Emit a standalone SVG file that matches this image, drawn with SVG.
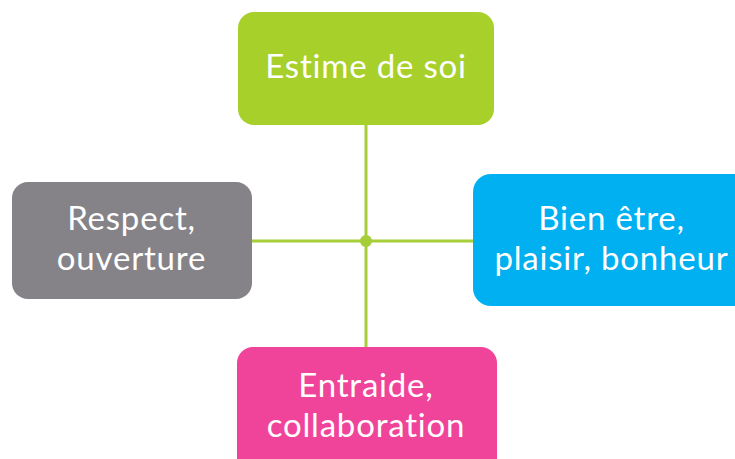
<svg xmlns="http://www.w3.org/2000/svg" width="735" height="459" viewBox="0 0 735 459">
<style>
.lbl{font-family:Lato,"Open Sans","Liberation Sans",sans-serif;font-size:33px;letter-spacing:0.8px;fill:#ffffff;text-anchor:middle}
.conn{stroke:#A6CE39;stroke-width:3;fill:none}
</style>
<rect width="735" height="459" fill="#ffffff"/>
<g id="connectors">
<line class="conn" x1="366" y1="125" x2="366" y2="348"/>
<line class="conn" x1="252" y1="241" x2="474" y2="241"/>
<circle cx="366" cy="241" r="6" fill="#A6CE39"/>
</g>
<g id="node-estime">
<rect x="238" y="12" width="256" height="113" rx="16" fill="#A8D02A"/>
<text class="lbl" x="366" y="78">Estime de soi</text>
</g>
<g id="node-respect">
<rect x="12" y="182" width="240" height="117" rx="16" fill="#858388"/>
<text class="lbl" x="131.5" y="230">Respect,</text>
<text class="lbl" x="131.5" y="270">ouverture</text>
</g>
<g id="node-bienetre">
<rect x="473" y="174" width="280" height="132" rx="18" fill="#00B0F0"/>
<text class="lbl" x="611.5" y="230">Bien être,</text>
<text class="lbl" x="611.5" y="270">plaisir, bonheur</text>
</g>
<g id="node-entraide">
<rect x="237" y="347" width="260" height="130" rx="16" fill="#F0439A"/>
<text class="lbl" x="366" y="397">Entraide,</text>
<text class="lbl" x="366" y="437">collaboration</text>
</g>
</svg>
